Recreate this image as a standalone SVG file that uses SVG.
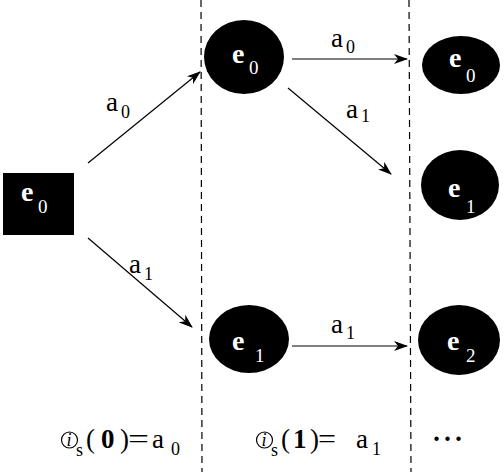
<svg xmlns="http://www.w3.org/2000/svg" width="504" height="472" viewBox="0 0 504 472" font-family="Liberation Serif, DejaVu Serif, Times New Roman, serif">
<defs>
<marker id="ah" markerWidth="14" markerHeight="10" refX="13" refY="5" orient="auto" markerUnits="userSpaceOnUse">
<path d="M0,0 L14,5 L0,10 L4,5 z" fill="#000"/>
</marker>
<style>
.node{fill:#000}
.nt{fill:#fff;font-weight:bold;font-size:28px}
.ns{fill:#fff;font-weight:normal;font-size:19px}
.lbl{fill:#000;font-size:27px}
.sub{fill:#000;font-size:18px}
.edge{stroke:#000;stroke-width:1.2;fill:none;marker-end:url(#ah)}
.dash{stroke:#000;stroke-width:1.2;stroke-dasharray:7,5;fill:none}
</style>
</defs>
<rect width="504" height="472" fill="#fff"/>
<g id="separators">
<line class="dash" x1="201" y1="0" x2="202" y2="472"/>
<line class="dash" x1="409" y1="0" x2="411" y2="472"/>
</g>
<g id="connectors">
<line class="edge" x1="88" y1="163" x2="200" y2="72"/>
<line class="edge" x1="88" y1="238" x2="192" y2="327"/>
<line class="edge" x1="292" y1="59" x2="407" y2="59"/>
<line class="edge" x1="288" y1="88" x2="391" y2="174"/>
<line class="edge" x1="292" y1="346" x2="407" y2="346"/>
<text class="lbl" x="106" y="111">a</text><text class="sub" x="121" y="118">0</text>
<text class="lbl" x="129" y="273">a</text><text class="sub" x="144" y="280">1</text>
<text class="lbl" x="331" y="47">a</text><text class="sub" x="346" y="53">0</text>
<text class="lbl" x="346" y="118">a</text><text class="sub" x="361" y="122">1</text>
<text class="lbl" x="331" y="333">a</text><text class="sub" x="346" y="339">1</text>
</g>
<g id="n_root">
<rect class="node" x="3" y="173" width="71" height="62"/>
<text class="nt" x="21" y="201">e</text><text class="ns" x="38" y="213">0</text>
</g>
<g id="n_mid_e0">
<ellipse class="node" cx="244" cy="57" rx="40" ry="37"/>
<text class="nt" x="232" y="63">e</text><text class="ns" x="249" y="74">0</text>
</g>
<g id="n_mid_e1">
<ellipse class="node" cx="249" cy="339" rx="40" ry="34"/>
<text class="nt" x="232" y="350">e</text><text class="ns" x="255" y="362">1</text>
</g>
<g id="n_r_e0">
<ellipse class="node" cx="461" cy="65" rx="39" ry="29"/>
<text class="nt" x="449" y="67">e</text><text class="ns" x="466" y="82">0</text>
</g>
<g id="n_r_e1">
<ellipse class="node" cx="460" cy="185" rx="39" ry="35"/>
<text class="nt" x="448" y="197">e</text><text class="ns" x="466" y="213">1</text>
</g>
<g id="n_r_e2">
<ellipse class="node" cx="459" cy="340" rx="41" ry="35"/>
<text class="nt" x="447" y="350">e</text><text class="ns" x="466" y="362">2</text>
</g>
<g id="bottom">
<circle cx="69.5" cy="440" r="8" fill="none" stroke="#000" stroke-width="1.2"/>
<text class="sub" x="66.5" y="446" font-style="italic" font-size="15">i</text>
<text class="sub" x="76" y="456" font-size="15">s</text>
<text class="lbl" x="86" y="448">(</text>
<text class="lbl" x="101" y="448" font-weight="bold">0</text>
<text class="lbl" x="120" y="448">)</text>
<text class="lbl" x="128" y="448" textLength="21" lengthAdjust="spacingAndGlyphs">=</text>
<text class="lbl" x="152" y="448">a</text><text class="sub" x="171" y="455">0</text>
<circle cx="264.5" cy="440" r="8" fill="none" stroke="#000" stroke-width="1.2"/>
<text class="sub" x="261.5" y="446" font-style="italic" font-size="15">i</text>
<text class="sub" x="271" y="456" font-size="15">s</text>
<text class="lbl" x="281" y="448">(</text>
<text class="lbl" x="293" y="448" font-weight="bold">1</text>
<text class="lbl" x="310" y="448">)</text>
<text class="lbl" x="318" y="448" textLength="18" lengthAdjust="spacingAndGlyphs">=</text>
<text class="lbl" x="356" y="448">a</text><text class="sub" x="372" y="455">1</text>
<text class="lbl" x="432" y="448" font-weight="bold" font-size="30" letter-spacing="2">···</text>
</g>
</svg>
